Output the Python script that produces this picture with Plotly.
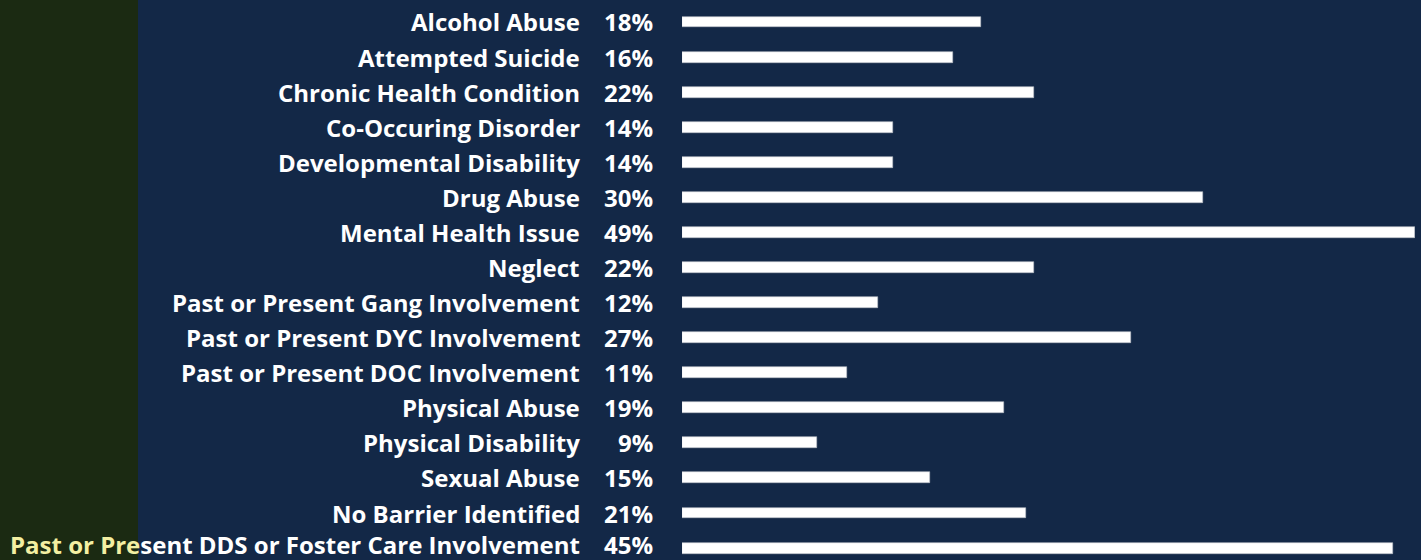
import plotly.graph_objects as go

categories = [
    "Alcohol Abuse", "Attempted Suicide", "Chronic Health Condition",
    "Co-Occuring Disorder", "Developmental Disability", "Drug Abuse",
    "Mental Health Issue", "Neglect", "Past or Present Gang Involvement",
    "Past or Present DYC Involvement", "Past or Present DOC Involvement",
    "Physical Abuse", "Physical Disability", "Sexual Abuse",
    "No Barrier Identified", "Past or Present DDS or Foster Care Involvement",
]
pct_labels = ["18%", "16%", "22%", "14%", "14%", "30%", "49%", "22%",
              "12%", "27%", "11%", "19%", "9%", "15%", "21%", "45%"]
# bar lengths as drawn in the picture (percent scale, full bar = 49)
bar_lengths = [20.0, 18.1, 23.5, 14.1, 14.1, 34.8, 49.0, 23.5,
               13.1, 30.0, 11.0, 21.5, 9.0, 16.6, 23.0, 47.5]

W, H = 1421, 560
ML, MR = 682, 6
PW = W - ML - MR
NAVY = "#132847"
GREEN = "#1b2a12"
FONT = "Open Sans"

rows = list(range(len(categories)))

fig = go.Figure()
fig.add_trace(go.Bar(
    x=bar_lengths, y=rows, orientation="h",
    width=0.31,
    marker=dict(color="#ffffff", line=dict(color="#b9bec6", width=0.6)),
    hoverinfo="skip", showlegend=False,
))

def px_to_paper(px):
    return (px - ML) / PW

annotations = []
last = len(categories) - 1
for i, (cat, pct) in enumerate(zip(categories, pct_labels)):
    text = cat
    if i == last:
        text = "<span style='color:#f3efa2'>" + cat[:11] + "</span>" + cat[11:]
    ys = 4 if i == last else 0
    annotations.append(dict(
        x=px_to_paper(582), y=i, xref="paper", yref="y", yshift=ys,
        text="<b>" + text + "</b>", showarrow=False, xanchor="right",
        yanchor="middle", font=dict(family=FONT, size=24, color="#ffffff"),
    ))
    annotations.append(dict(
        x=px_to_paper(655), y=i, xref="paper", yref="y", yshift=ys,
        text="<b>" + pct + "</b>", showarrow=False, xanchor="right",
        yanchor="middle", font=dict(family=FONT, size=24, color="#ffffff"),
    ))

fig.update_layout(
    width=W, height=H,
    margin=dict(l=ML, r=MR, t=0, b=0, pad=0),
    paper_bgcolor=NAVY, plot_bgcolor=NAVY,
    xaxis=dict(range=[0, 49], visible=False, fixedrange=True),
    yaxis=dict(range=[15.34, -0.627], visible=False, fixedrange=True),
    annotations=annotations,
    shapes=[dict(type="rect", xref="paper", yref="paper",
                 x0=px_to_paper(0), x1=px_to_paper(138), y0=0, y1=1,
                 fillcolor=GREEN, line=dict(width=0), layer="below")],
    bargap=0,
)

fig.write_html(
    "out.html",
    config={"displayModeBar": False},
    post_script="document.body.style.margin='0';document.body.style.overflow='hidden';",
)
